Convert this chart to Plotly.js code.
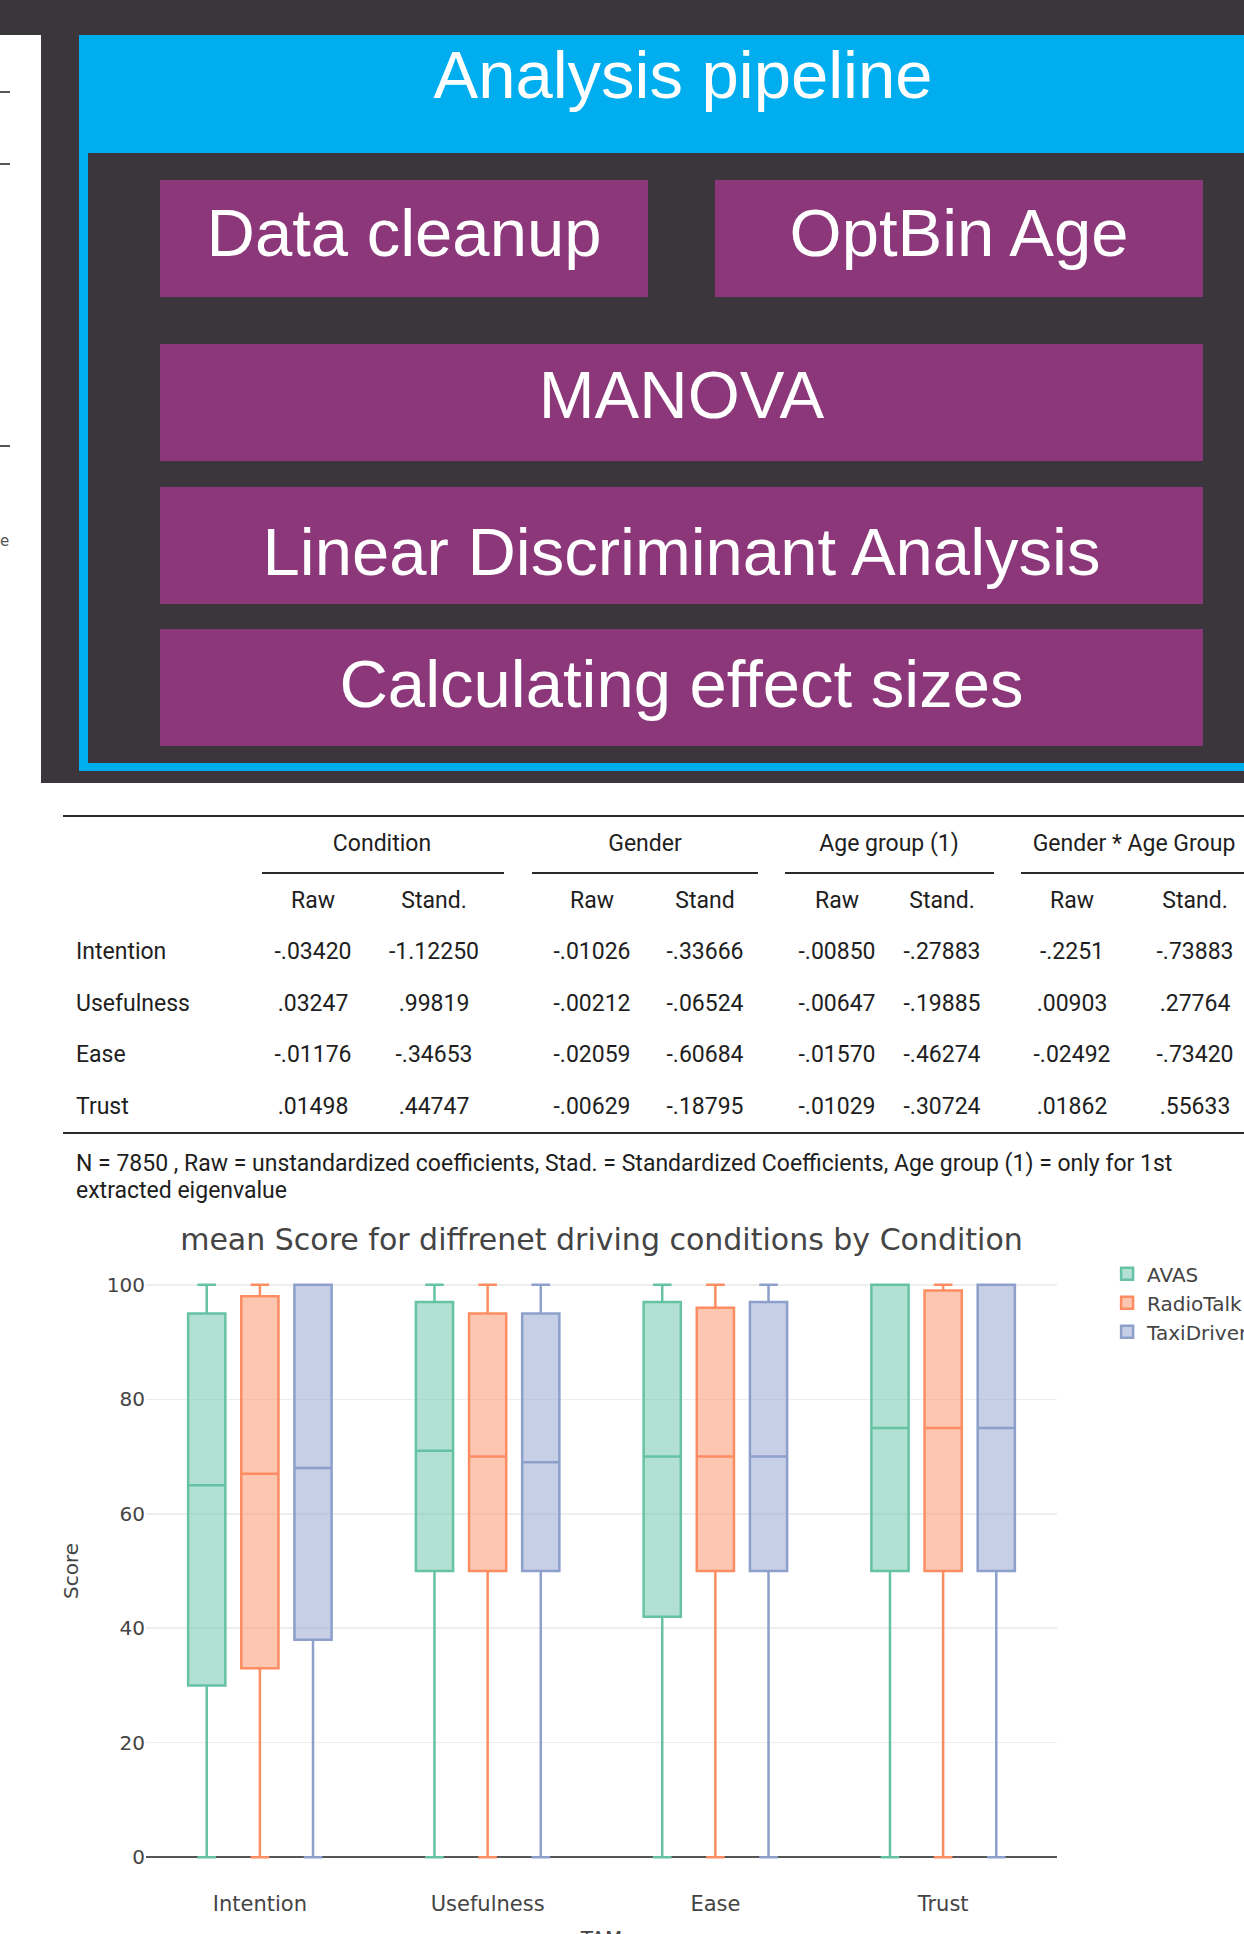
<!DOCTYPE html>
<html>
<head>
<meta charset="utf-8">
<script src="https://cdn.plot.ly/plotly-3.0.1.min.js"></script>
<style>
  html, body { margin:0; padding:0; background:#ffffff; overflow:hidden; }
  #page { position:relative; width:1244px; height:1934px; overflow:hidden; background:#ffffff; }
  .abs { position:absolute; }
  .pipe { position:absolute; background:#8c3779; }
  .pipetxt { position:absolute; color:#ffffff; font-family:"Liberation Sans", Arial, sans-serif; font-size:67px; white-space:nowrap; text-align:center; }
  .tbl { position:absolute; font-family:Roboto, "Liberation Sans", sans-serif; font-size:23px; color:#1e1e1e; white-space:nowrap; }
  .rule { position:absolute; background:#2a2a2a; }
</style>
</head>
<body>
<div id="page">
  <div id="top" class="abs" style="left:0;top:0;width:1244px;height:783px;background:#3b363c;"></div>
  <div id="leftstrip" class="abs" style="left:0;top:35px;width:41px;height:748px;background:#ffffff;"></div>
  <div class="abs" style="left:0;top:91px;width:10px;height:2px;background:#555;"></div>
  <div class="abs" style="left:0;top:163px;width:10px;height:2px;background:#555;"></div>
  <div class="abs" style="left:0;top:445px;width:10px;height:2px;background:#555;"></div>
  <div class="abs" style="left:0;top:531px;font-family:'DejaVu Sans',sans-serif;font-size:15px;line-height:20px;color:#555;">e</div>
  <div id="blueframe" class="abs" style="left:79px;top:35px;width:1200px;height:736px;background:#00adef;"></div>
  <div id="innerdark" class="abs" style="left:88px;top:153px;width:1200px;height:610px;background:#3b363c;"></div>
  <div id="chart" class="abs" style="left:0;top:1210px;width:1300px;height:760px;"></div>
</div>
<script>
// ---------- pipeline diagram text ----------
const pipelineTitle = "Analysis pipeline";
const pipelineSteps = ["Data cleanup", "OptBin Age", "MANOVA", "Linear Discriminant Analysis", "Calculating effect sizes"];

// ---------- table data ----------
const groupHeaders = ["Condition", "Gender", "Age group (1)", "Gender * Age Group"];
const subHeaders = ["Raw", "Stand.", "Raw", "Stand", "Raw", "Stand.", "Raw", "Stand."];
const rowLabels = ["Intention", "Usefulness", "Ease", "Trust"];
const intentionRow = ["-.03420", "-1.12250", "-.01026", "-.33666", "-.00850", "-.27883", "-.2251", "-.73883"];
const usefulnessRow = [".03247", ".99819", "-.00212", "-.06524", "-.00647", "-.19885", ".00903", ".27764"];
const easeRow = ["-.01176", "-.34653", "-.02059", "-.60684", "-.01570", "-.46274", "-.02492", "-.73420"];
const trustRow = [".01498", ".44747", "-.00629", "-.18795", "-.01029", "-.30724", ".01862", ".55633"];
const noteLines = ["N = 7850 , Raw = unstandardized coefficients, Stad. = Standardized Coefficients, Age group (1) = only for 1st", "extracted eigenvalue"];

// ---------- box plot data ----------
const categories = ["Intention", "Usefulness", "Ease", "Trust"];
const seriesNames = ["AVAS", "RadioTalk", "TaxiDriver"];
const avasLower = [0, 0, 0, 0];
const avasQ1 = [30, 50, 42, 50];
const avasMedian = [65, 71, 70, 75];
const avasQ3 = [95, 97, 97, 100];
const avasUpper = [100, 100, 100, 100];
const radioLower = [0, 0, 0, 0];
const radioQ1 = [33, 50, 50, 50];
const radioMedian = [67, 70, 70, 75];
const radioQ3 = [98, 95, 96, 99];
const radioUpper = [100, 100, 100, 100];
const taxiLower = [0, 0, 0, 0];
const taxiQ1 = [38, 50, 50, 50];
const taxiMedian = [68, 69, 70, 75];
const taxiQ3 = [100, 95, 97, 100];
const taxiUpper = [100, 100, 100, 100];
const chartTitle = "mean Score for diffrenet driving conditions by Condition";
const yTitle = "Score";
const xTitle = "TAM";
const leftFragments = ["0", "0", "0"];

// ---------- layout (positions) ----------
const page = document.getElementById("page");
const chartDiv = document.getElementById("chart");
function addDiv(html, style, cls) {
  const d = document.createElement("div");
  if (cls) d.className = cls;
  d.style.cssText = style;
  d.innerHTML = html;
  page.insertBefore(d, chartDiv);
  return d;
}

// pipeline boxes
const boxRects = [[160,180,488,117],[715,180,488,117],[160,344,1043,117],[160,487,1043,117],[160,629,1043,117]];
const capCenters = [232, 232, 394, 551, 683];
const F = 67;
addDiv(pipelineTitle, "left:88px;width:1190px;top:" + (74 - F/2) + "px;height:" + F + "px;line-height:" + F + "px;", "pipetxt");
pipelineSteps.forEach((t, i) => {
  const r = boxRects[i];
  addDiv("", "left:" + r[0] + "px;top:" + r[1] + "px;width:" + r[2] + "px;height:" + r[3] + "px;", "pipe");
  addDiv(t, "left:" + r[0] + "px;width:" + r[2] + "px;top:" + (capCenters[i] - F/2) + "px;height:" + F + "px;line-height:" + F + "px;", "pipetxt");
});

// table
function centerText(txt, cx, cy) {
  addDiv(txt, "left:" + (cx - 150) + "px;width:300px;text-align:center;top:" + (cy - 15) + "px;height:30px;line-height:30px;", "tbl");
}
function leftText(txt, x, cy) {
  addDiv(txt, "left:" + x + "px;top:" + (cy - 15) + "px;height:30px;line-height:30px;", "tbl");
}
addDiv("", "left:63px;top:815px;width:1200px;height:2px;", "rule");
addDiv("", "left:63px;top:1132px;width:1200px;height:2px;", "rule");
const groupCenters = [382, 645, 889, 1134];
const groupLines = [[262, 504], [532, 758], [785, 994], [1021, 1260]];
groupHeaders.forEach((g, i) => {
  centerText(g, groupCenters[i], 844);
  addDiv("", "left:" + groupLines[i][0] + "px;top:872px;width:" + (groupLines[i][1] - groupLines[i][0]) + "px;height:2px;", "rule");
});
const colCenters = [313, 434, 592, 705, 837, 942, 1072, 1195];
subHeaders.forEach((s, i) => centerText(s, colCenters[i], 901));
const rows = [intentionRow, usefulnessRow, easeRow, trustRow];
const rowY = [952, 1004, 1055, 1107];
rowLabels.forEach((lab, r) => {
  leftText(lab, 76, rowY[r]);
  rows[r].forEach((v, c) => centerText(v, colCenters[c], rowY[r]));
});
leftText(noteLines[0], 76, 1164);
leftText(noteLines[1], 76, 1191);

// fragments of neighbouring figure on the left
const fragY = [1302, 1330, 1357];
leftFragments.forEach((f, i) => {
  addDiv(f, "left:-3px;top:" + (fragY[i] - 11) + "px;font-family:'DejaVu Sans',sans-serif;font-size:18px;line-height:22px;color:#444;");
});

// ---------- box plot ----------
const colors = ["#66c2a5", "#fc8d62", "#8da0cb"];
const lowers = [avasLower, radioLower, taxiLower];
const q1s = [avasQ1, radioQ1, taxiQ1];
const meds = [avasMedian, radioMedian, taxiMedian];
const q3s = [avasQ3, radioQ3, taxiQ3];
const uppers = [avasUpper, radioUpper, taxiUpper];
const traces = seriesNames.map((name, i) => ({
  type: "box",
  name: name,
  x: categories,
  lowerfence: lowers[i],
  q1: q1s[i],
  median: meds[i],
  q3: q3s[i],
  upperfence: uppers[i],
  boxpoints: false,
  marker: { color: colors[i] },
  line: { color: colors[i], width: 2.5 },
  whiskerwidth: 0.5
}));

const font = "DejaVu Sans, Verdana, sans-serif";
const layout = {
  width: 1300,
  height: 760,
  margin: { l: 146, r: 243, t: 43, b: 81 },
  paper_bgcolor: "rgba(0,0,0,0)",
  plot_bgcolor: "rgba(0,0,0,0)",
  font: { family: font, size: 20, color: "#444" },
  boxmode: "group",
  boxgap: 0.3,
  boxgroupgap: 0.3,
  title: { text: chartTitle, font: { family: font, size: 30, color: "#444" }, x: 0.5, xref: "paper", y: 1 - 29/760, yref: "container", yanchor: "middle" },
  xaxis: {
    type: "category",
    title: { text: xTitle, font: { family: font, size: 20, color: "#444" }, standoff: 15 },
    tickfont: { family: font, size: 21, color: "#444" },
    showgrid: false,
    zeroline: false,
    showline: false
  },
  yaxis: {
    range: [-5.56, 105.56],
    tickvals: [0, 20, 40, 60, 80, 100],
    ticktext: ["0", "20", "40", "60", "80", "100"],
    title: { text: yTitle, font: { family: font, size: 20, color: "#444" }, standoff: 22 },
    tickfont: { family: font, size: 20, color: "#444" },
    gridcolor: "#eeeeee",
    gridwidth: 1.5,
    zeroline: true,
    zerolinecolor: "#555",
    zerolinewidth: 1.8,
    showline: false
  },
  legend: { x: 1.055, xanchor: "left", y: 0.998, yanchor: "top", font: { family: font, size: 20, color: "#444" }, bgcolor: "rgba(0,0,0,0)" },
  showlegend: true
};
Plotly.newPlot("chart", traces, layout, { displayModeBar: false, staticPlot: true });
</script>
</body>
</html>
